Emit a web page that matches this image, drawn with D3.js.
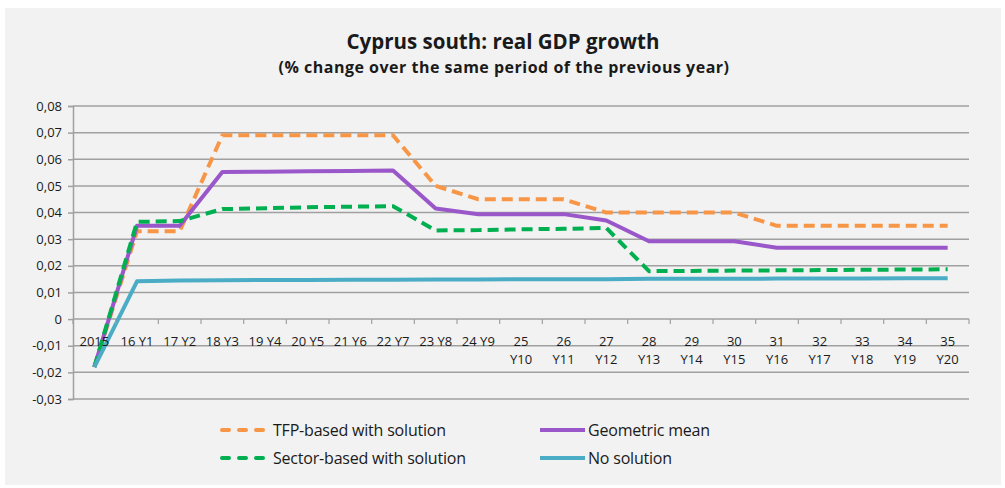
<!DOCTYPE html>
<html>
<head>
<meta charset="utf-8">
<script src="https://cdn.jsdelivr.net/npm/d3@7"></script>
<style>
  body { margin: 0; background: #fff; }
  svg text { font-family: "Open Sans", "Noto Sans", sans-serif; fill: #1a1a1a; }
</style>
</head>
<body>
<div id="chart-container"></div>
<script>
// categories and series
const categories = ["2015", "16 Y1", "17 Y2", "18 Y3", "19 Y4", "20 Y5", "21 Y6", "22 Y7", "23 Y8", "24 Y9",
    "25 Y10", "26 Y11", "27 Y12", "28 Y13", "29 Y14", "30 Y15", "31 Y16", "32 Y17", "33 Y18", "34 Y19", "35 Y20"];

const tfpBased = [-0.018, 0.033, 0.033, 0.069, 0.069, 0.069, 0.069, 0.069, 0.050, 0.045,
    0.045, 0.045, 0.040, 0.040, 0.040, 0.040, 0.035, 0.035, 0.035, 0.035, 0.035];
const geoMean = [-0.018, 0.035, 0.035, 0.0552, 0.0553, 0.0555, 0.0556, 0.0558, 0.0415, 0.0394,
    0.0394, 0.0394, 0.0370, 0.0292, 0.0292, 0.0292, 0.0268, 0.0268, 0.0268, 0.0268, 0.0268];
const sectorBased = [-0.018, 0.0365, 0.0368, 0.0413, 0.0416, 0.0420, 0.0422, 0.0424, 0.0333, 0.0334,
    0.0337, 0.0339, 0.0342, 0.0180, 0.0181, 0.0182, 0.0183, 0.0184, 0.0185, 0.0186, 0.0187];
const noSolution = [-0.018, 0.0142, 0.0145, 0.0146, 0.0147, 0.0147, 0.0148, 0.0148, 0.0149, 0.0149,
    0.0150, 0.0150, 0.0150, 0.0151, 0.0151, 0.0151, 0.0152, 0.0152, 0.0152, 0.0153, 0.0153];

const yTicks = [-0.03, -0.02, -0.01, 0, 0.01, 0.02, 0.03, 0.04, 0.05, 0.06, 0.07, 0.08];

const series = [
    { name: "TFP-based with solution", values: tfpBased, color: "#f79646", dash: "11,6" },
    { name: "Geometric mean", values: geoMean, color: "#9a57c9", dash: null },
    { name: "Sector-based with solution", values: sectorBased, color: "#00b050", dash: "11,6" },
    { name: "No solution", values: noSolution, color: "#4bacc6", dash: null }
];

const W = 1005, H = 488;
const margin = { top: 106, right: 36, bottom: 89, left: 73 };
const width = W - margin.left - margin.right;
const height = H - margin.top - margin.bottom;

const svg = d3.select("#chart-container")
    .append("svg")
    .attr("width", W)
    .attr("height", H);

// background panel
svg.append("rect")
    .attr("x", 5).attr("y", 8)
    .attr("width", 996).attr("height", 477)
    .attr("fill", "#f2f2f2");

// titles
svg.append("text")
    .attr("x", 503).attr("y", 49)
    .attr("text-anchor", "middle")
    .style("font-size", "20.5px")
    .style("font-weight", "bold")
    .text("Cyprus south: real GDP growth");

svg.append("text")
    .attr("x", 504).attr("y", 73)
    .attr("text-anchor", "middle")
    .style("font-size", "16px")
    .style("font-weight", "bold")
    .style("letter-spacing", "0.5px")
    .text("(% change over the same period of the previous year)");

const g = svg.append("g")
    .attr("transform", "translate(" + margin.left + "," + margin.top + ")");

const x = d3.scaleBand().domain(categories).range([0, width]);
const y = d3.scaleLinear().domain([-0.03, 0.08]).range([height, 0]);

// horizontal gridlines
g.append("g")
    .selectAll("line")
    .data(yTicks)
    .enter()
    .append("line")
    .attr("x1", 0).attr("x2", width)
    .attr("y1", d => y(d)).attr("y2", d => y(d))
    .attr("stroke", "#a0a0a0")
    .attr("stroke-width", 1.5);

// y axis
const yAxis = g.append("g")
    .call(d3.axisLeft(y).tickValues(yTicks).tickSize(5).tickPadding(6)
        .tickFormat(d => d === 0 ? "0" : d3.format(".2f")(d).replace(".", ",").replace("−", "-")));
yAxis.select(".domain").attr("stroke", "#a0a0a0").attr("stroke-width", 1.5);
yAxis.selectAll(".tick line").attr("stroke", "#a0a0a0").attr("stroke-width", 1.5);
yAxis.selectAll(".tick text").style("font-size", "13px").attr("fill", "#1a1a1a");

// lines
const line = d3.line()
    .x((d, i) => x(categories[i]) + x.bandwidth() / 2)
    .y(d => y(d));

series.forEach(s => {
    g.append("path")
        .datum(s.values)
        .attr("fill", "none")
        .attr("stroke", s.color)
        .attr("stroke-width", 4)
        .attr("stroke-linejoin", "round")
        .attr("stroke-dasharray", s.dash)
        .attr("d", line);
});

// category axis drawn on the zero line, ticks at category borders
const xg = g.append("g").attr("transform", "translate(0," + y(0) + ")");
xg.selectAll("line.cat")
    .data(categories.concat(["end"]))
    .enter()
    .append("line")
    .attr("class", "cat")
    .attr("x1", (d, i) => i * x.bandwidth())
    .attr("x2", (d, i) => i * x.bandwidth())
    .attr("y1", 0).attr("y2", 5)
    .attr("stroke", "#a0a0a0")
    .attr("stroke-width", 1.2);

const labels = xg.selectAll("text.cat")
    .data(categories)
    .enter()
    .append("text")
    .attr("class", "cat")
    .attr("text-anchor", "middle")
    .attr("transform", d => "translate(" + (x(d) + x.bandwidth() / 2) + ",0)")
    .style("font-size", "13px");

labels.each(function (d) {
    const t = d3.select(this);
    // longer labels wrap onto two lines like in the original
    const parts = d.length > 5 ? d.split(" ") : [d];
    parts.forEach((p, i) => {
        t.append("tspan").attr("x", 0).attr("y", 27 + i * 18).text(p);
    });
});

// legend
const legendPos = [
    { x: 222, y: 430 }, { x: 540, y: 430 },
    { x: 222, y: 458 }, { x: 540, y: 458 }
];
series.forEach((s, i) => {
    const p = legendPos[i];
    const lg = svg.append("g").attr("transform", "translate(" + p.x + "," + p.y + ")");
    lg.append("line")
        .attr("x1", 0).attr("x2", s.dash ? 41 : 45)
        .attr("y1", 0).attr("y2", 0)
        .attr("stroke", s.color)
        .attr("stroke-width", 4)
        .attr("stroke-linecap", s.dash ? "round" : "butt")
        .attr("stroke-dasharray", s.dash ? "7,10" : null);
    lg.append("text")
        .attr("x", s.dash ? 51 : 48)
        .attr("y", 6)
        .style("font-size", "16px")
        .style("letter-spacing", "-0.2px")
        .text(s.name);
});
</script>
</body>
</html>
